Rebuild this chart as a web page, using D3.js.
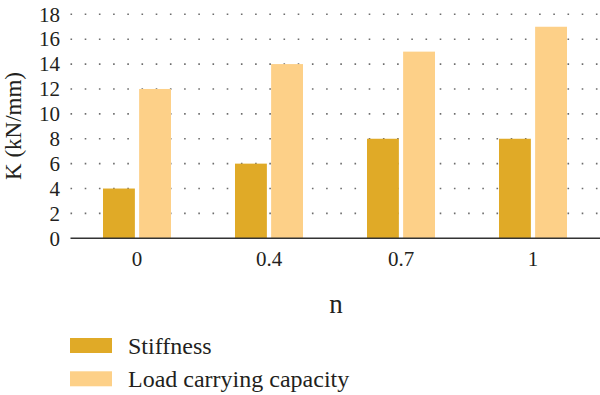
<!DOCTYPE html>
<html>
<head>
<meta charset="utf-8">
<script src="https://cdn.jsdelivr.net/npm/d3@7"></script>
</head>
<body style="margin:0;background:#fff">
<svg id="chart" width="600" height="395" font-family="Liberation Serif" style="display:block"></svg>
<script>
const categories = ["0", "0.4", "0.7", "1"];
const seriesNames = ["Stiffness", "Load carrying capacity"];
const stiffness = [4, 6, 8, 8];
const loadCapacity = [12, 14, 15, 17];
const yTicks = [0, 2, 4, 6, 8, 10, 12, 14, 16, 18];
const colors = ["#E0AA27", "#FDD088"];
const INK = "#231f20";

const svg = d3.select("#chart");
const plot = { left: 71, right: 599, top: 14.3, bottom: 238.3 };

const x0 = d3.scaleBand().domain(categories).range([plot.left, plot.right]).padding(0);
const groupW = 68;
const x1 = d3.scaleBand().domain(seriesNames).range([0, groupW]).paddingInner(8 / 68).paddingOuter(0);
const y = d3.scaleLinear().domain([0, 18]).range([plot.bottom, plot.top]);

function serif(sel, size) {
  sel.attr("font-family", "Liberation Serif")
     .style("font-family", "'Liberation Serif', serif")
     .attr("font-size", size).attr("fill", INK);
  return sel;
}

// grid dotted lines
svg.append("g").selectAll("line").data(yTicks.filter(d => d > 0)).join("line")
  .attr("x1", plot.left - 0.5).attr("x2", 600)
  .attr("y1", d => y(d)).attr("y2", d => y(d))
  .attr("stroke", "#6d6d6d").attr("stroke-width", 1.6)
  .attr("stroke-dasharray", "1.6,12.6");

// bars
const rows = categories.map((c, i) => ({ c, vals: [stiffness[i], loadCapacity[i]] }));
const g = svg.append("g").selectAll("g").data(rows).join("g")
  .attr("transform", d => `translate(${x0(d.c) + (x0.bandwidth() - groupW) / 2},0)`);
g.selectAll("rect").data(d => d.vals.map((v, j) => ({ name: seriesNames[j], v, j }))).join("rect")
  .attr("x", d => x1(d.name)).attr("width", x1.bandwidth())
  .attr("y", d => y(d.v)).attr("height", d => y(0) - y(d.v))
  .attr("fill", d => colors[d.j]);

// x axis
const xAxis = svg.append("g").attr("transform", `translate(0,${plot.bottom})`)
  .call(d3.axisBottom(x0).tickSize(0).tickPadding(13));
xAxis.attr("font-family", null);
serif(xAxis.selectAll("text"), 21);
xAxis.select(".domain").attr("stroke", "#333").attr("stroke-width", 1.6)
  .attr("d", `M${plot.left - 0.5},0H600`);

// y axis
const yAxis = svg.append("g").attr("transform", `translate(${plot.left},0)`)
  .call(d3.axisLeft(y).tickValues(yTicks).tickSize(0).tickPadding(11));
yAxis.attr("font-family", null);
serif(yAxis.selectAll("text"), 21);
yAxis.select(".domain").remove();

// axis titles
serif(svg.append("text"), 23).attr("transform", "translate(21,126) rotate(-90)")
  .attr("text-anchor", "middle").text("K (kN/mm)");
serif(svg.append("text"), 27).attr("x", 336).attr("y", 313)
  .attr("text-anchor", "middle").text("n");

// legend
const leg = svg.append("g").selectAll("g").data(seriesNames).join("g")
  .attr("transform", (d, i) => `translate(70,${338 + i * 33.3})`);
leg.append("rect").attr("width", 42).attr("height", 15).attr("fill", (d, i) => colors[i]);
serif(leg.append("text"), 24).attr("x", 58).attr("y", 15.5).text(d => d);
</script>
</body>
</html>
